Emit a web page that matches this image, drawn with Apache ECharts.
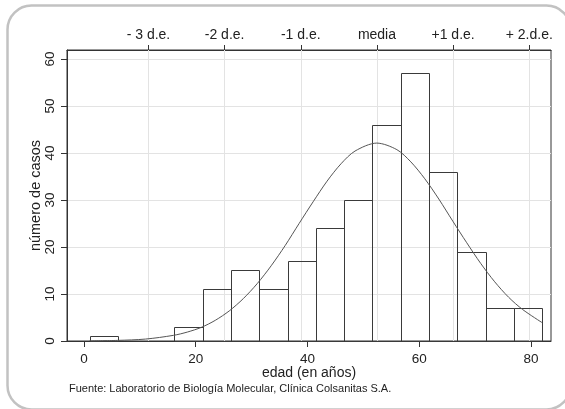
<!DOCTYPE html>
<html><head><meta charset="utf-8">
<script src="https://cdn.jsdelivr.net/npm/echarts@6/dist/echarts.min.js"></script>
<style>html,body{margin:0;padding:0;background:#fff}#c{width:565px;height:409px}</style>
</head><body><div id="c"></div>
<script>
// Histogram: bins of equal width starting at binStart
const binStart = 1;
const binWidth = 5.0625;
const counts = [1, 0, 0, 3, 11, 15, 11, 17, 24, 30, 46, 57, 36, 19, 7, 7];

// Fitted normal curve
const curveX = [1, 6, 11, 16, 18.5, 21, 23.5, 26, 28.5, 31, 33.5, 36, 38.5, 41, 43.5, 46, 48.5, 52.4, 56, 58.5, 61, 63.5, 66, 68.5, 71, 73.5, 76, 78.5, 82];
const curveY = [0.03, 0.13, 0.41, 1.2, 1.9, 2.9, 4.4, 6.4, 9.0, 12.2, 16.0, 20.3, 25.0, 29.6, 34.0, 37.7, 40.4, 42.1, 40.7, 38.1, 34.5, 30.2, 25.5, 20.9, 16.5, 12.6, 9.3, 6.7, 3.9];

// Top axis: mean and standard deviations
const meanAge = 52.43;
const sdAge = 13.63;
const sdSteps = [-3, -2, -1, 0, 1, 2];
const sdLabels = ['- 3 d.e.', '-2 d.e.', '-1 d.e.', 'media', '+1 d.e.', '+ 2.d.e.'];

// Tick labels
const xTicks = [0, 20, 40, 60, 80];
const yTicks = [0, 10, 20, 30, 40, 50, 60];

const FONT = 'Liberation Sans, Arial, sans-serif';
const TXT = '#222';
const X_MIN = -3.04, X_MAX = 83.58;

const sdValues = sdSteps.map(k => meanAge + k * sdAge);
const bars = counts.map((c, i) => [binStart + i * binWidth, binStart + (i + 1) * binWidth, c]).filter(b => b[2] > 0);
const curve = curveX.map((x, i) => [x, curveY[i]]);

const chart = echarts.init(document.getElementById('c'), null, {renderer: 'canvas'});
chart.setOption({
  animation: false,
  backgroundColor: '#fff',
  textStyle: {fontFamily: FONT, color: TXT},
  grid: {left: 67, right: 14, top: 50, bottom: 68, show: true, borderColor: '#333', borderWidth: 1, containLabel: false},
  graphic: [
    {type: 'rect', z: -10, silent: true, shape: {x: 7.5, y: 5.5, width: 563, height: 404, r: 24},
     style: {fill: 'none', stroke: '#c2c2c2', lineWidth: 2.5}},
    {type: 'text', left: 69, top: 383, silent: true,
     style: {text: 'Fuente: Laboratorio de Biología Molecular, Clínica Colsanitas S.A.', font: '11px ' + FONT, fill: TXT}}
  ],
  xAxis: [
    {type: 'value', position: 'bottom', min: X_MIN, max: X_MAX,
     axisLine: {show: true, onZero: false, lineStyle: {color: '#333', width: 1}},
     axisTick: {show: true, customValues: xTicks, length: 6, lineStyle: {color: '#333'}},
     axisLabel: {customValues: xTicks, fontSize: 13.5, margin: 11, color: TXT, fontFamily: FONT},
     splitLine: {show: false},
     name: 'edad (en años)', nameLocation: 'middle', nameGap: 25, nameMoveOverlap: false,
     nameTextStyle: {fontSize: 14, color: TXT, fontFamily: FONT}},
    {type: 'value', position: 'top', min: X_MIN, max: X_MAX,
     axisLine: {show: true, onZero: false, lineStyle: {color: '#333', width: 1}},
     axisTick: {show: true, customValues: sdValues, length: 5, lineStyle: {color: '#333'}},
     axisLabel: {customValues: sdValues, fontSize: 14, margin: 8, color: TXT, fontFamily: FONT,
       formatter: function (v) {
         let best = 0;
         for (let j = 1; j < sdValues.length; j++) if (Math.abs(sdValues[j] - v) < Math.abs(sdValues[best] - v)) best = j;
         return sdLabels[best];
       }},
     splitLine: {show: false}}
  ],
  yAxis: {type: 'value', min: 0, max: 61.9, interval: 10,
    axisLine: {show: true, onZero: false, lineStyle: {color: '#333', width: 1}},
    axisTick: {show: true, customValues: yTicks, length: 6, lineStyle: {color: '#333'}},
    axisLabel: {customValues: yTicks, rotate: 90, fontSize: 13.5, margin: 10, color: TXT, fontFamily: FONT},
    splitLine: {show: true, lineStyle: {color: '#e3e3e3', width: 1}},
    name: 'número de casos', nameLocation: 'middle', nameGap: 24, nameMoveOverlap: false,
    nameTextStyle: {fontSize: 14.5, color: TXT, fontFamily: FONT}},
  series: [
    {type: 'custom', xAxisIndex: 0, yAxisIndex: 0, z: 3, data: bars,
     encode: {x: [0, 1], y: 2},
     renderItem: function (params, api) {
       const p0 = api.coord([api.value(0), api.value(2)]);
       const p1 = api.coord([api.value(1), 0]);
       return {type: 'rect',
         shape: {x: Math.round(p0[0]) + 0.5, y: Math.round(p0[1]) + 0.5, width: Math.round(p1[0]) - Math.round(p0[0]), height: Math.round(p1[1]) - Math.round(p0[1])},
         style: {fill: 'none', stroke: '#3a3a3a', lineWidth: 1}};
     },
     markLine: {silent: true, z: 1, symbol: 'none', label: {show: false},
       lineStyle: {color: '#e3e3e3', type: 'solid', width: 1},
       data: sdValues.map(v => ({xAxis: v}))}},
    {type: 'line', xAxisIndex: 0, yAxisIndex: 0, z: 4, data: curve, smooth: 0.3,
     showSymbol: false, symbol: 'none', lineStyle: {color: '#555', width: 1}}
  ]
});
</script>
</body></html>
